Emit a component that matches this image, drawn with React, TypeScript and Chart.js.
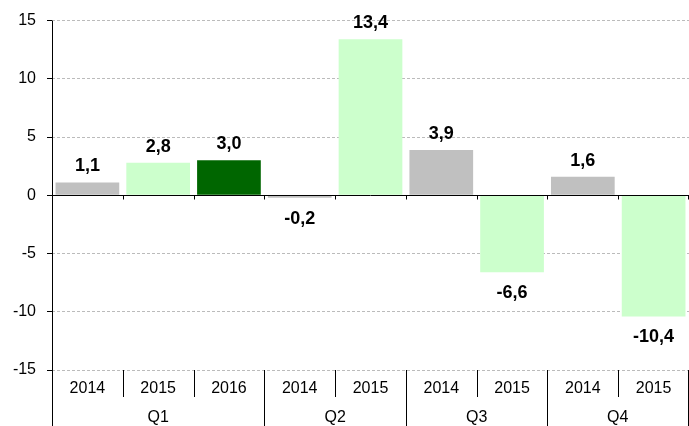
import React, { useEffect, useRef } from 'react';
import { Chart, registerables } from 'chart.js';

Chart.register(...registerables);

// ---- data ----
const years = ['2014', '2015', '2016', '2014', '2015', '2014', '2015', '2014', '2015'];
const quarterLabels = ['Q1', 'Q2', 'Q3', 'Q4'];
const quarterSizes = [3, 2, 2, 2];
const values = [1.1, 2.8, 3.0, -0.2, 13.4, 3.9, -6.6, 1.6, -10.4];
const yMin = -15;
const yMax = 15;
const yStep = 5;

const yearColors: Record<string, string> = {
  '2014': '#C0C0C0',
  '2015': '#CCFFCC',
  '2016': '#006600',
};

const FONT = '"Liberation Sans", Arial, sans-serif';

const overlayPlugin = {
  id: 'overlay',
  afterDatasetsDraw(chart: any) {
    const { ctx, chartArea, scales } = chart;
    const xs = scales.x;
    const ys = scales.y;
    const n = years.length;
    const left = chartArea.left;
    const right = chartArea.right;
    const bottom = chartArea.bottom;
    const top = chartArea.top;
    const H = chart.height;
    const y0 = Math.round(ys.getPixelForValue(0)) + 0.5;
    const boundary = (i: number) =>
      i === 0 ? left : i === n ? right - 1 : (xs.getPixelForValue(i - 1) + xs.getPixelForValue(i)) / 2;
    const px = (v: number) => Math.round(v) + 0.5;

    ctx.save();
    ctx.strokeStyle = '#000';
    ctx.lineWidth = 1;
    ctx.setLineDash([]);
    ctx.beginPath();
    // zero line
    ctx.moveTo(left, y0);
    ctx.lineTo(right, y0);
    // tick marks on zero line
    for (let i = 1; i <= n; i++) {
      const bx = px(boundary(i));
      ctx.moveTo(bx, y0);
      ctx.lineTo(bx, y0 + 4);
    }
    // y axis line
    ctx.moveTo(px(left), top);
    ctx.lineTo(px(left), H);
    // year / quarter dividers
    const groupEnds: number[] = [];
    let acc = 0;
    quarterSizes.forEach((s) => {
      acc += s;
      groupEnds.push(acc);
    });
    for (let i = 1; i <= n; i++) {
      const bx = px(boundary(i));
      const full = groupEnds.includes(i);
      ctx.moveTo(bx, bottom);
      ctx.lineTo(bx, full ? H : bottom + 27);
    }
    ctx.stroke();

    // category labels
    ctx.fillStyle = '#000';
    ctx.textAlign = 'center';
    ctx.textBaseline = 'middle';
    ctx.font = `16px ${FONT}`;
    years.forEach((yr, i) => {
      ctx.fillText(yr, xs.getPixelForValue(i), bottom + 19);
    });
    let start = 0;
    quarterLabels.forEach((q, gi) => {
      const end = start + quarterSizes[gi];
      const cx = (boundary(start) + boundary(end)) / 2;
      ctx.fillText(q, cx, bottom + 48);
      start = end;
    });

    // data labels
    const meta = chart.getDatasetMeta(0);
    ctx.font = `bold 18px ${FONT}`;
    meta.data.forEach((el: any, i: number) => {
      const v = values[i];
      const txt = v.toFixed(1).replace('.', ',');
      const ty = v >= 0 ? el.y - 16 : el.y + 21;
      ctx.fillText(txt, el.x, ty);
    });
    ctx.restore();
  },
};

export default function App() {
  const canvasRef = useRef<HTMLCanvasElement | null>(null);

  useEffect(() => {
    if (!canvasRef.current) return;
    const chart = new Chart(canvasRef.current, {
      type: 'bar',
      data: {
        labels: years.map((y, i) => `${y}-${i}`),
        datasets: [
          {
            data: values,
            backgroundColor: years.map((y) => yearColors[y]),
            borderWidth: 0,
            barPercentage: 0.9,
            categoryPercentage: 1,
          },
        ],
      },
      options: {
        animation: false,
        responsive: true,
        maintainAspectRatio: false,
        layout: { padding: { top: 19, bottom: 56, left: 0, right: 0 } },
        plugins: {
          legend: { display: false },
          tooltip: { enabled: false },
        },
        scales: {
          x: {
            display: false,
            offset: true,
          },
          y: {
            min: yMin,
            max: yMax,
            afterFit: (scale: any) => {
              scale.width = 52;
            },
            ticks: {
              stepSize: yStep,
              padding: 11,
              color: '#000',
              font: { family: FONT, size: 16 },
              callback: (v: any) => String(v),
            },
            grid: {
              color: '#BBBBBB',
              lineWidth: 1,
              drawTicks: true,
              tickLength: 5,
              tickColor: '#000',
              tickBorderDash: [],
            },
            border: {
              display: false,
              dash: [3, 2],
            },
          },
        },
      },
      plugins: [overlayPlugin],
    });
    return () => chart.destroy();
  }, []);

  return (
    <div style={{ position: 'fixed', left: 0, top: 0, width: 689, height: 426, background: '#fff' }}>
      <canvas ref={canvasRef} />
    </div>
  );
}
